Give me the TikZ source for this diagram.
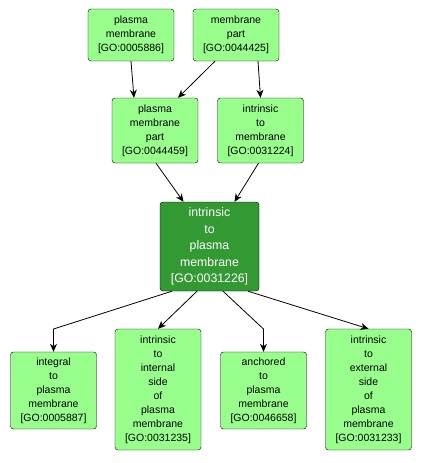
\documentclass[tikz,border=0pt]{standalone}
\usepackage{fontspec}
\setmainfont{Liberation Sans}
\usetikzlibrary{arrows.meta}
\definecolor{golight}{RGB}{152,255,140}
\definecolor{godark}{RGB}{51,153,51}

\begin{document}
\begin{tikzpicture}[x=1pt,y=-1pt,
	term/.style={draw=black,fill=golight,rounded corners=3pt,align=center,inner sep=0pt,
		font=\fontsize{10.5}{14}\selectfont,minimum width=86pt},
	focus/.style={draw=black,fill=godark,text=white,rounded corners=3pt,align=center,inner sep=0pt,
		font=\fontsize{12.3}{16.4}\selectfont,minimum width=99pt,minimum height=89pt},
	isa/.style={-{Stealth[length=8pt,width=7pt,inset=2.5pt]},line width=0.8pt}]

		\useasboundingbox (0,0) rectangle (421,463);

		\node[term,minimum height=52pt] (pm)   at (131, 35)    {plasma\\membrane\\{}[GO:0005886]};
		\node[term,minimum height=52pt] (mp)   at (236, 35)    {membrane\\part\\{}[GO:0044425]};
		\node[term,minimum height=65pt] (pmp)  at (155, 130.5) {plasma\\membrane\\part\\{}[GO:0044459]};
		\node[term,minimum height=65pt] (itm)  at (260.5, 130.5) {intrinsic\\to\\membrane\\{}[GO:0031224]};
		\node[focus] (itpm) at (209.5, 246.5) {intrinsic\\to\\plasma\\membrane\\{}[GO:0031226]};
		\node[term,minimum height=77pt]  (ipm)  at (53.5, 390.5)  {integral\\to\\plasma\\membrane\\{}[GO:0005887]};
		\node[term,minimum height=121pt] (iisp) at (158, 389.5)   {intrinsic\\to\\internal\\side\\of\\plasma\\membrane\\{}[GO:0031235]};
		\node[term,minimum height=77pt]  (apm)  at (263.5, 390.5) {anchored\\to\\plasma\\membrane\\{}[GO:0046658]};
		\node[term,minimum height=121pt] (iesp) at (368.5, 389.5) {intrinsic\\to\\external\\side\\of\\plasma\\membrane\\{}[GO:0031233]};

		\coordinate (ka) at (53.5, 329);
		\coordinate (kc) at (263.5, 329);

		\draw[isa] (pm.south) -- ([xshift=-21pt]pmp.north);
		\draw[isa] ([xshift=-21pt]mp.south) -- ([xshift=23pt]pmp.north);
		\draw[isa] ([xshift=22pt]mp.south) -- (itm.north);
		\draw[isa] ([xshift=1pt]pmp.south) -- ([xshift=-26pt]itpm.north);
		\draw[isa] ([xshift=-2pt]itm.south) -- ([xshift=25pt]itpm.north);
		\draw[isa] ([xshift=-37.5pt]itpm.south) -- (ka) -- (ipm.north);
		\draw[isa] ([xshift=-12.5pt]itpm.south) -- (iisp.north);
		\draw[isa] ([xshift=13.5pt]itpm.south) -- (kc) -- (apm.north);
		\draw[isa] ([xshift=38.5pt]itpm.south) -- (iesp.north);

\end{tikzpicture}
\end{document}
